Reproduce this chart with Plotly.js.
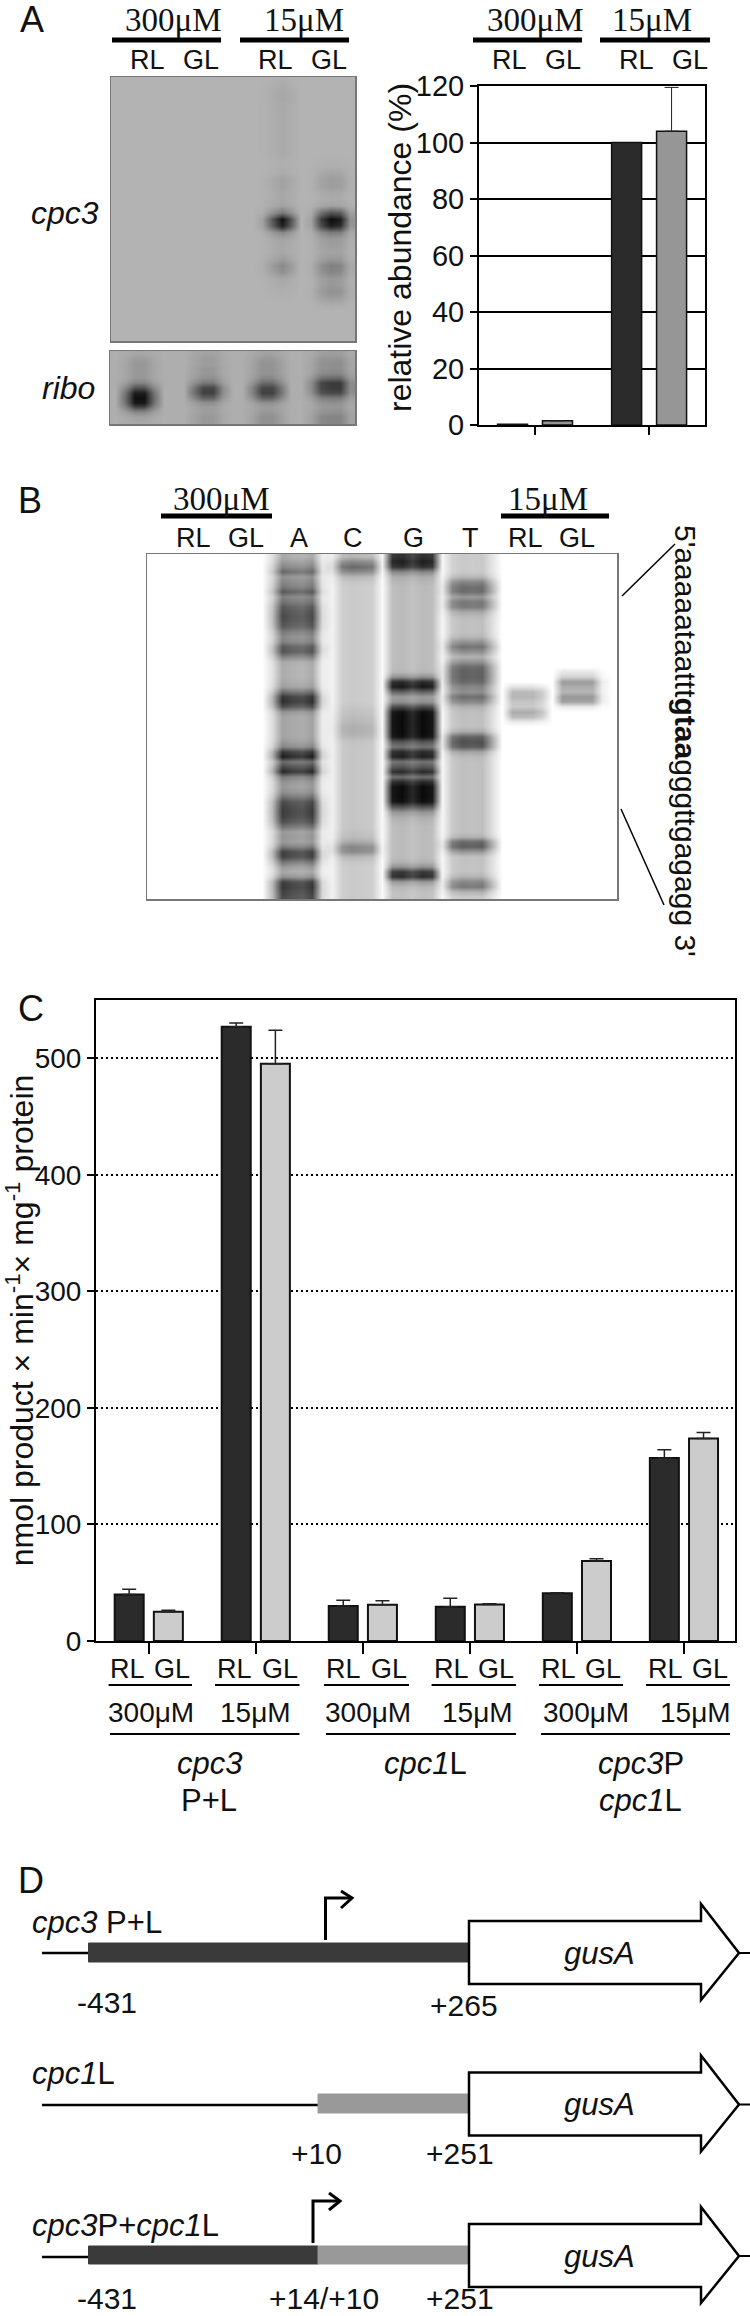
<!DOCTYPE html>
<html><head><meta charset="utf-8">
<script src="https://cdn.plot.ly/plotly-3.0.1.min.js"></script>
<style>html,body{margin:0;padding:0;background:#fff}</style></head>
<body><div id="chart" style="width:750px;height:2316px"></div>
<script>
// ---- Panel A bar chart
const abundGroups = [1, 2];
const abundRL = [0.3, 100];
const abundGL = [1.5, 104];
const abundGLerr = [null, 15.5];
const abundTicks = [0, 20, 40, 60, 80, 100, 120];

// ---- Panel C bar chart
const actGroups = [1, 2, 3, 4, 5, 6];
const actRL = [40, 527, 30, 29.4, 41, 157];
const actRLerr = [4.3, 3.3, 5, 7.2, 0.5, 7];
const actGL = [25, 495.4, 31, 31.4, 68.6, 173.7];
const actGLerr = [1.3, 28.6, 3.6, 0.6, 2, 5.3];
const actTicks = [0, 100, 200, 300, 400, 500];

// ---- Gel intensities read by eye (0 white .. 1 black), one list per lane, top to bottom
const cpc3Bg = 0.31;
const cpc3LaneRL = [.33,.35,.36,.36,.35,.35,.35,.35,.35,.35,.35,.35,.33,.33,.34,.38,.38,.36,.36,.38,.55,.97,.92,.5,.38,.36,.36,.4,.48,.45,.36,.34,.33,.32,.31,.31,.31,.31,.31,.31];
const cpc3LaneGL = [.31,.31,.31,.31,.31,.31,.31,.31,.31,.31,.31,.31,.32,.33,.37,.4,.4,.36,.34,.38,.7,1,.92,.55,.42,.4,.38,.42,.52,.5,.42,.42,.45,.4,.34,.31,.31,.31,.31,.31];
const cpc3Cols = [-1,-1,-1,-1,-1,-1,-1,-1,-1,-1,-1,-1,-1,-1,-1,0,0,0,0,-1,1,1,1,1,1];
const cpc3Wts  = [0,0,0,0,0,0,0,0,0,0,0,0,0,0,0,.1,.55,1,.55,0,.1,.7,1,.9,.2];

const riboBg = 0.33;
const riboLane1 = [.36,.4,.42,.42,.42,.42,.5,.7,.92,.98,.95,.75,.5,.38,.36];
const riboLane2 = [.38,.4,.4,.42,.42,.45,.55,.75,.78,.65,.45,.4,.4,.42,.42];
const riboLane3 = [.38,.42,.44,.44,.44,.48,.6,.75,.78,.65,.45,.4,.42,.45,.45];
const riboLane4 = [.4,.44,.46,.46,.48,.6,.8,.8,.75,.55,.45,.42,.45,.5,.5];
const riboCols = [-1,0,0,0,0,-1,-1,-1,1,1,1,1,-1,-1,2,2,2,2,-1,-1,3,3,3,3,3];
const riboWts  = [0,.4,1,1,.4,0,0,0,.5,1,1,.3,0,0,.4,1,1,.5,0,0,.3,.9,1,1,.3];

const seqLaneA = [.35,.42,.5,.62,.45,.5,.55,.68,.52,.58,.68,.72,.74,.72,.68,.55,.48,.52,.68,.7,.52,.36,.34,.34,.34,.36,.4,.6,.82,.85,.72,.45,.38,.38,.38,.38,.38,.42,.5,.82,.92,.6,.75,.88,.55,.45,.42,.46,.58,.74,.78,.8,.78,.72,.58,.42,.44,.42,.55,.78,.78,.58,.42,.36,.46,.78,.82,.78,.75];
const seqLaneC = [.3,.5,.62,.5,.3,.24,.22,.22,.22,.22,.22,.22,.22,.22,.22,.22,.22,.22,.22,.22,.22,.22,.22,.22,.22,.22,.22,.22,.22,.22,.24,.26,.28,.3,.33,.33,.3,.25,.24,.24,.24,.24,.24,.24,.24,.24,.24,.24,.24,.24,.24,.24,.24,.24,.24,.26,.28,.36,.5,.48,.3,.24,.22,.22,.22,.22,.22,.22,.22];
const seqLaneG = [.85,.92,.85,.5,.34,.3,.28,.28,.28,.28,.28,.28,.28,.28,.28,.28,.28,.28,.28,.28,.28,.28,.28,.3,.45,.88,.95,.65,.42,.45,.75,.98,1,1,1,1,.98,.7,.58,.88,.92,.58,.7,.88,.6,.88,1,1,1,.98,.72,.45,.34,.3,.28,.28,.28,.28,.28,.28,.28,.32,.45,.82,.86,.42,.3,.26,.26];
const seqLaneT = [.22,.22,.22,.22,.3,.5,.6,.6,.42,.55,.55,.36,.28,.26,.26,.26,.3,.45,.58,.46,.32,.45,.62,.65,.65,.62,.5,.46,.6,.5,.32,.27,.26,.26,.26,.36,.65,.72,.68,.38,.28,.26,.26,.26,.26,.26,.26,.26,.26,.26,.26,.26,.26,.26,.26,.26,.32,.62,.66,.42,.26,.25,.25,.25,.32,.5,.55,.32,.22];
const seqLaneRL = [0,0,0,0,0,0,0,0,0,0,0,0,0,0,0,0,0,0,0,0,0,0,0,0,0,0,.12,.28,.3,.24,.22,.34,.28,.08,0,0,0,0,0,0,0,0,0,0,0,0,0,0,0,0,0,0,0,0,0,0,0,0,0,0,0,0,0,0,0,0,0,0,0];
const seqLaneGL = [0,0,0,0,0,0,0,0,0,0,0,0,0,0,0,0,0,0,0,0,0,0,0,.1,.18,.4,.34,.3,.42,.38,.08,0,0,0,0,0,0,0,0,0,0,0,0,0,0,0,0,0,0,0,0,0,0,0,0,0,0,0,0,0,0,0,0,0,0,0,0,0,0];
const seqCols = [-1,-1,-1,-1,-1,-1,-1,-1,-1,-1,-1,-1,0,0,0,0,0,0,1,1,1,1,1,1,2,2,2,2,2,3,3,3,3,3,3,-1,4,4,4,4,-1,5,5,5,5,5,-1];
const seqWts  = [0,0,0,0,0,0,0,0,0,0,0,0,.35,1,.92,.88,1,.2,.25,.9,1,.95,.9,.1,.95,1,.88,1,.95,.15,.85,1,.97,1,.5,0,1,1,1,.7,0,1,1,1,1,.2,0];

// ---- Text
const rlgl = ['RL', 'GL'];
const seqLabels = ['RL', 'GL', 'A', 'C', 'G', 'T', 'RL', 'GL'];
const concs = ['300μM', '15μM'];
const constructs = ['<i>cpc3</i>', 'P+L', '<i>cpc1</i>L', '<i>cpc3</i>P', '<i>cpc1</i>L'];
const sequence = "5'aaaaataattt<b>gtaa</b>gggttgagagg 3'";

// ---- Helpers
const W = 750, H = 2316;
const SANS = 'Liberation Sans, Arial, sans-serif', SERIF = 'Liberation Serif, Times New Roman, serif';
const px = x => x / W, py = y => 1 - y / H;
const domX = (a, b) => [a / W, b / W], domY = (t, b) => [1 - b / H, 1 - t / H];
const annotations = [], shapes = [];
function T(text, x, y, size, o) {
  o = o || {};
  annotations.push({ text, x: px(x), y: py(y), xref: 'paper', yref: 'paper', showarrow: false,
    xanchor: o.anchor || 'center', yanchor: 'middle', textangle: o.angle || 0, borderpad: 0,
    font: { family: o.family || SANS, size, color: '#111' } });
}
function L(x0, y0, x1, y1, w, c) {
  shapes.push({ type: 'line', xref: 'paper', yref: 'paper', x0: px(x0), y0: py(y0), x1: px(x1), y1: py(y1),
    line: { color: c || '#000', width: w } });
}
function P(points, fill, w, c) {
  const d = points.map((p, i) => (i ? 'L' : 'M') + px(p[0]) + ',' + py(p[1])).join(' ');
  shapes.push({ type: 'path', xref: 'paper', yref: 'paper', path: d + (fill ? ' Z' : ''),
    fillcolor: fill || 'rgba(0,0,0,0)', line: { color: c || '#000', width: w } });
}
function R(x0, y0, x1, y1, fill) {
  shapes.push({ type: 'rect', xref: 'paper', yref: 'paper', x0: px(x0), y0: py(y0), x1: px(x1), y1: py(y1),
    fillcolor: fill, line: { color: fill, width: 1 } });
}

// ---- Gels: rows from lanes, columns from lane index and weight
function gelMatrix(lanes, cols, wts, bg) {
  return lanes[0].map((_, r) => cols.map((c, i) => c < 0 ? bg : bg + (lanes[c][r] - bg) * wts[i]));
}
const greys = [[0, '#ffffff'], [1, '#0a0a0a']];
function gel(lanes, cols, wts, bg, xa, ya) {
  return { type: 'heatmap', z: gelMatrix(lanes, cols, wts, bg), xaxis: xa, yaxis: ya, colorscale: greys,
    zmin: 0, zmax: 1, zsmooth: 'best', showscale: false, hoverinfo: 'skip' };
}
const gelAxis = (dom, range, anchor) => ({ domain: dom, range, anchor, showgrid: false, zeroline: false, ticks: '',
  showticklabels: false, showline: true, mirror: true, linecolor: '#777', linewidth: 1.5, fixedrange: true });

const traces = [
  gel([cpc3LaneRL, cpc3LaneGL], cpc3Cols, cpc3Wts, cpc3Bg, 'x', 'y'),
  gel([riboLane1, riboLane2, riboLane3, riboLane4], riboCols, riboWts, riboBg, 'x2', 'y2'),
  gel([seqLaneA, seqLaneC, seqLaneG, seqLaneT, seqLaneRL, seqLaneGL], seqCols, seqWts, 0, 'x4', 'y4'),
  { type: 'bar', x: abundGroups, y: abundRL, xaxis: 'x3', yaxis: 'y3', width: .263, offset: -.3285,
    marker: { color: '#2b2b2b', line: { color: '#111', width: 1.5 } }, hoverinfo: 'skip' },
  { type: 'bar', x: abundGroups, y: abundGL, xaxis: 'x3', yaxis: 'y3', width: .263, offset: .0655,
    marker: { color: '#969696', line: { color: '#111', width: 1.5 } }, hoverinfo: 'skip',
    error_y: { type: 'data', symmetric: false, array: abundGLerr, arrayminus: [0, 0], color: '#222', thickness: 1, width: 7 } },
  { type: 'bar', x: actGroups, y: actRL, xaxis: 'x5', yaxis: 'y5', width: .271, offset: -.3185,
    marker: { color: '#2b2b2b', line: { color: '#111', width: 2 } }, hoverinfo: 'skip',
    error_y: { type: 'data', symmetric: false, array: actRLerr, arrayminus: actRLerr.map(() => 0), color: '#222', thickness: 1.5, width: 7 } },
  { type: 'bar', x: actGroups, y: actGL, xaxis: 'x5', yaxis: 'y5', width: .271, offset: .0475,
    marker: { color: '#cccccc', line: { color: '#111', width: 2 } }, hoverinfo: 'skip',
    error_y: { type: 'data', symmetric: false, array: actGLerr, arrayminus: actGLerr.map(() => 0), color: '#222', thickness: 1.5, width: 7 } }
];

// ---- Panel letters
T('A', 32, 20, 36); T('B', 30, 500, 36); T('C', 31, 1008, 36); T('D', 31, 1880, 36);

// ---- Panel A text
T(concs[0], 173, 20, 33, { family: SERIF }); T(concs[1], 304, 20, 33, { family: SERIF });
T(concs[0], 535, 20, 33, { family: SERIF }); T(concs[1], 652, 20, 33, { family: SERIF });
L(112, 40, 221, 40, 5); L(240, 40, 349, 40, 5); L(473, 40, 582, 40, 5); L(600, 40, 710, 40, 5);
[[147, 0], [201, 1], [275, 0], [329, 1], [509, 0], [563, 1], [636, 0], [690, 1]].forEach(a => T(rlgl[a[1]], a[0], 60, 27));
T('<i>cpc3</i>', 65, 213, 32); T('<i>ribo</i>', 68, 388, 32);
T('relative abundance (%)', 400, 248, 32, { angle: -90 });

// ---- Panel B text and lines
T(concs[0], 221, 499, 33, { family: SERIF }); T(concs[1], 548, 499, 33, { family: SERIF });
L(161, 516, 272, 516, 5); L(501, 516, 609, 516, 5);
[193, 246, 299, 353, 413, 470, 525, 577].forEach((x, i) => T(seqLabels[i], x, 538, 27));
T(sequence, 686, 741, 30, { angle: 90 });
L(675, 544, 622, 596, 1.5); L(621, 809, 664, 905, 1.5);

// ---- Panel C group labels
[[127, 172], [234, 280], [343.5, 389], [451, 496], [558, 603], [665, 710]].forEach(p => {
  T(rlgl[0], p[0], 1669, 27); T(rlgl[1], p[1], 1669, 27);
});
[[108.6, 192], [215, 299.5], [324, 409], [431.6, 516], [539, 623], [646, 730]].forEach(p => L(p[0], 1685, p[1], 1685, 2));
[151, 255, 368, 477, 586, 695].forEach((x, i) => T(concs[i % 2], x, 1712, 28));
[[110, 299.5], [326, 516], [541, 730]].forEach(p => L(p[0], 1734, p[1], 1734, 2));
T(constructs[0], 209, 1763, 31); T(constructs[1], 209, 1800, 31);
T(constructs[2], 425, 1763, 31); T(constructs[3], 641, 1763, 31); T(constructs[4], 640, 1800, 31);

// ---- Panel D construct diagrams
function gusArrow(dy) {
  L(738, 1953 + dy, 750, 1953 + dy, 2);
  P([[469, 1921 + dy], [701, 1921 + dy], [701, 1904 + dy], [739, 1953 + dy], [701, 2000 + dy], [701, 1984 + dy], [469, 1984 + dy]], '#ffffff', 2.5);
  T('<i>gusA</i>', 599, 1953 + dy, 31);
}
L(42, 1953, 89, 1953, 2.5); R(88.5, 1943, 469, 1962, '#3a3a3a'); gusArrow(0);
P([[325.5, 1940], [325.5, 1898], [352, 1898]], null, 3); P([[341, 1891], [352, 1898], [341, 1908]], null, 3);
L(42, 2105, 318, 2105, 2.5); R(318, 2094, 469, 2113, '#999999'); gusArrow(151.5);
L(42, 2257, 89, 2257, 2.5); R(88.5, 2246, 318, 2264, '#3a3a3a'); R(318, 2246, 469, 2264, '#999999'); gusArrow(303);
P([[313, 2243], [313, 2201], [340, 2201]], null, 3); P([[329, 2193], [340, 2201], [329, 2210]], null, 3);
T('<i>cpc3</i> P+L', 31, 1922, 31, { anchor: 'left' });
T('<i>cpc1</i>L', 31, 2073, 31, { anchor: 'left' });
T('<i>cpc3</i>P+<i>cpc1</i>L', 31, 2225, 31, { anchor: 'left' });
[['-431', 107, 2002], ['+265', 464, 2005], ['+10', 316, 2153], ['+251', 460, 2153], ['-431', 107, 2298], ['+14/+10', 324, 2298], ['+251', 460, 2298]]
  .forEach(a => T(a[0], a[1], a[2], 30));

const layout = {
  width: W, height: H, margin: { l: 0, r: 0, t: 0, b: 0 }, paper_bgcolor: '#fff', plot_bgcolor: '#fff',
  showlegend: false, barmode: 'overlay', annotations, shapes,
  xaxis: gelAxis(domX(111, 355), [-.5, 24.5], 'y'), yaxis: gelAxis(domY(77, 341), [39.5, -.5], 'x'),
  xaxis2: gelAxis(domX(110, 355), [-.5, 24.5], 'y2'), yaxis2: gelAxis(domY(351, 424), [14.5, -.5], 'x2'),
  xaxis4: gelAxis(domX(147, 617), [-.5, 46.5], 'y4'), yaxis4: gelAxis(domY(554, 899), [68.5, -.5], 'x4'),
  xaxis3: { domain: domX(479, 705), anchor: 'y3', range: [.509, 2.49], tickvals: abundGroups, showticklabels: false, ticks: 'outside',
    ticklen: 8, tickwidth: 2, tickcolor: '#000', showgrid: false, zeroline: false, showline: true, mirror: true,
    linecolor: '#000', linewidth: 2 },
  yaxis3: { domain: domY(86, 425), anchor: 'x3', range: [0, 120], tickvals: abundTicks, ticks: 'outside', ticklen: 7, tickwidth: 2,
    tickcolor: '#000', tickfont: { family: SANS, size: 29, color: '#111' }, showgrid: true, gridcolor: '#000', gridwidth: 2,
    zeroline: false, showline: true, mirror: true, linecolor: '#000', linewidth: 2 },
  xaxis5: { domain: domX(96, 735), anchor: 'y5', range: [.507, 6.477], tickvals: actGroups, showticklabels: false, ticks: 'outside',
    ticklen: 11, tickwidth: 2, tickcolor: '#000', showgrid: false, zeroline: false, showline: true, mirror: true,
    linecolor: '#000', linewidth: 2 },
  yaxis5: { domain: domY(1000, 1641), anchor: 'x5', range: [0, 550], tickvals: actTicks, ticks: 'outside', ticklen: 7, tickwidth: 2,
    tickcolor: '#000', tickfont: { family: SANS, size: 28, color: '#111' }, showgrid: true, gridcolor: '#000', gridwidth: 2,
    griddash: '2px,3px', zeroline: false, showline: true, mirror: true, linecolor: '#000', linewidth: 2,
    title: { text: 'nmol product × min<sup>-1</sup>× mg<sup>-1</sup> protein', font: { family: SANS, size: 32, color: '#111' }, standoff: 4 } }
};
Plotly.newPlot('chart', traces, layout, { displayModeBar: false, staticPlot: true });
</script></body></html>
